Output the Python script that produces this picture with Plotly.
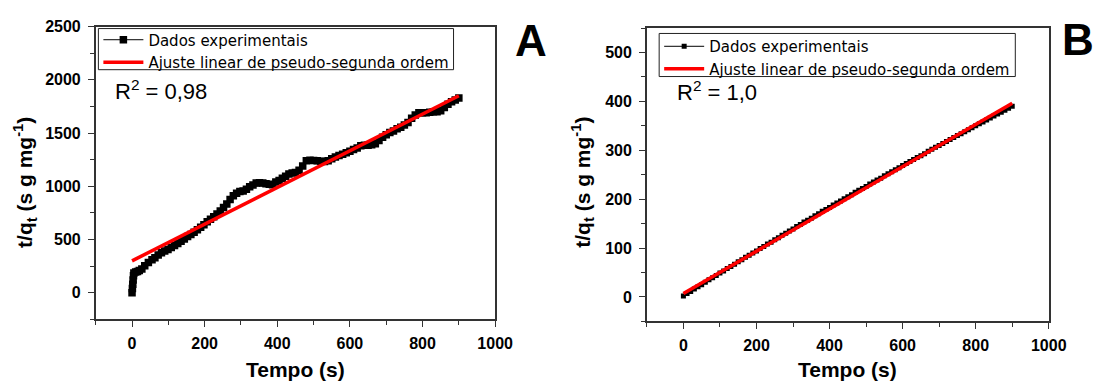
import plotly.graph_objects as go

W, H = 1113, 385

# ---------------- data ----------------
# Panel A: experimental t/qt vs time
tA = [0, 1, 2, 3, 4, 5, 10, 15, 20, 27, 35, 45, 55, 63, 72, 81, 90, 99, 108, 117,
      126, 135, 144, 153, 162, 171, 180, 189, 198, 207, 216, 225, 234, 243, 252, 261,
      270, 279, 288, 297, 306, 315, 324, 333, 342, 351, 360, 369, 378, 387, 396, 405,
      414, 423, 432, 441, 450, 460, 470, 480, 490, 500, 510, 520, 530, 540, 550, 560,
      570, 580, 590, 600, 610, 620, 630, 640, 650, 660, 670, 680, 690, 700, 710, 720,
      730, 740, 750, 760, 770, 780, 790, 800, 810, 820, 830, 840, 850, 860, 870, 880,
      890, 900]
vA = [0, 40, 80, 120, 160, 185, 195, 200, 210, 223, 255, 285, 310, 330, 355, 376, 392, 407, 425, 443,
      462, 483, 505, 529, 548, 569, 592, 615, 640, 667, 690, 713, 740, 768, 800, 835,
      875, 911, 935, 951, 955, 972, 995, 1012, 1030, 1034, 1030, 1025, 1020, 1015, 1040, 1055,
      1075, 1094, 1115, 1126, 1130, 1150, 1190, 1240, 1245, 1243, 1240, 1235, 1232, 1240, 1260, 1275,
      1290, 1300, 1315, 1330, 1345, 1360, 1380, 1385, 1385, 1390, 1400, 1430, 1460, 1485, 1505, 1520,
      1540, 1555, 1575, 1600, 1640, 1670, 1690, 1691, 1692, 1695, 1700, 1700, 1710, 1740, 1770, 1795,
      1810, 1830]
fitA_t = [0, 900]
fitA_v = [300, 1850]

# Panel B: experimental t/qt vs time
tB = [0, 10, 20, 30, 40, 50, 60, 70, 80, 90, 100, 110, 120, 130, 140, 150, 160, 170, 180, 190,
      200, 210, 220, 230, 240, 250, 260, 270, 280, 290, 300, 310, 320, 330, 340, 350, 360, 370,
      380, 390, 400, 410, 420, 430, 440, 450, 460, 470, 480, 490, 500, 510, 520, 530, 540, 550,
      560, 570, 580, 590, 600, 610, 620, 630, 640, 650, 660, 670, 680, 690, 700, 710, 720, 730,
      740, 750, 760, 770, 780, 790, 800, 810, 820, 830, 840, 850, 860, 870, 880, 890, 900]
vB = [2, 7, 11, 16, 21, 25, 30, 35, 39, 44, 49, 53, 58, 62, 67, 72, 76, 81, 85, 90,
      94, 99, 103, 108, 112, 117, 121, 126, 130, 135, 139, 144, 148, 153, 157, 161, 166, 170,
      175, 179, 183, 188, 192, 196, 201, 205, 209, 214, 218, 222, 226, 231, 235, 239, 243, 248,
      252, 256, 260, 264, 269, 273, 277, 281, 285, 289, 293, 298, 302, 306, 310, 314, 318, 322,
      326, 330, 334, 338, 342, 346, 350, 354, 358, 362, 366, 370, 374, 378, 382, 386, 390]
fitB_t = [0, 900]
fitB_v = [7, 396]

name_exp = "Dados experimentais"
name_fit = "Ajuste linear de pseudo-segunda ordem"

# ---------------- figure ----------------
def px(x):
    return x / W

def py(y):
    return 1 - y / H

fig = go.Figure()

fig.add_trace(go.Scatter(x=tA, y=vA, mode="lines+markers", name=name_exp,
                         line=dict(color="black", width=1),
                         marker=dict(symbol="square", size=7.5, color="black"),
                         xaxis="x", yaxis="y", legend="legend"))
fig.add_trace(go.Scatter(x=fitA_t, y=fitA_v, mode="lines", name=name_fit,
                         line=dict(color="#ff0000", width=3.5),
                         xaxis="x", yaxis="y", legend="legend"))
fig.add_trace(go.Scatter(x=tB, y=vB, mode="lines+markers", name=name_exp,
                         line=dict(color="black", width=1),
                         marker=dict(symbol="square", size=5, color="black"),
                         xaxis="x2", yaxis="y2", legend="legend2"))
fig.add_trace(go.Scatter(x=fitB_t, y=fitB_v, mode="lines", name=name_fit,
                         line=dict(color="#ff0000", width=3.5),
                         xaxis="x2", yaxis="y2", legend="legend2"))

tickfont = dict(family="Liberation Sans, Arial, sans-serif", size=16, color="black", weight="bold")
axcol = "#333333"

def xaxis_cfg(domain, anchor):
    return dict(domain=domain, anchor=anchor, range=[-100, 1000], tick0=0, dtick=200,
                showgrid=False, zeroline=False, showline=True, mirror=True,
                linecolor=axcol, linewidth=1.5, ticks="outside", ticklen=6, tickwidth=1.3,
                tickcolor=axcol, tickfont=tickfont, ticklabelstandoff=3,
                minor=dict(dtick=100, tick0=0, ticks="outside", ticklen=4, tickwidth=1.2,
                           tickcolor=axcol, showgrid=False))

def yaxis_cfg(domain, anchor, rng, dtick, mdtick):
    return dict(domain=domain, anchor=anchor, range=rng, tick0=0, dtick=dtick,
                showgrid=False, zeroline=False, showline=True, mirror=True,
                linecolor=axcol, linewidth=1.5, ticks="outside", ticklen=6, tickwidth=1.3,
                tickcolor=axcol, tickfont=tickfont, ticklabelstandoff=4,
                minor=dict(dtick=mdtick, tick0=0, ticks="outside", ticklen=4, tickwidth=1.2,
                           tickcolor=axcol, showgrid=False))

legfont = dict(family="DejaVu Sans, Verdana, sans-serif", size=15, color="black")
legend_common = dict(xanchor="left", yanchor="top", bgcolor="rgba(0,0,0,0)",
                     borderwidth=0, font=legfont, itemwidth=40, tracegroupgap=0,
                     itemclick=False)

# legend frames (drawn as shapes so their size matches the original box)
legend_boxes = [
    dict(type="rect", xref="paper", yref="paper", x0=px(100), x1=px(461), y0=py(63), y1=py(21),
         line=dict(color="#222222", width=1), fillcolor="white", layer="above"),
    dict(type="rect", xref="paper", yref="paper", x0=px(670), x1=px(1032), y0=py(70), y1=py(26),
         line=dict(color="#222222", width=1), fillcolor="white", layer="above"),
]

fig.update_layout(
    width=W, height=H,
    margin=dict(l=0, r=0, t=0, b=0),
    paper_bgcolor="white", plot_bgcolor="white",
    showlegend=True,
    xaxis=xaxis_cfg([px(97.3), px(503.3)], "y"),
    yaxis=yaxis_cfg([py(318), py(19)], "x", [-250, 2500], 500, 250),
    xaxis2=xaxis_cfg([px(657.5), px(1066)], "y2"),
    yaxis2=yaxis_cfg([py(320), py(20.5)], "x2", [-50, 550], 100, 50),
    legend=dict(x=px(100), y=py(15.8), **legend_common),
    legend2=dict(x=px(670), y=py(22.5), **legend_common),
    shapes=legend_boxes,
)

title_font = dict(family="Liberation Sans, Arial, sans-serif", size=21, color="black", weight="bold")
r2_font = dict(family="Liberation Sans, Arial, sans-serif", size=22, color="black")
letter_font = dict(family="Liberation Sans, Arial, sans-serif", size=44, color="black", weight="bold")

annotations = [
    dict(text="Tempo (s)", x=px(300), y=py(369), xref="paper", yref="paper",
         showarrow=False, font=title_font, xanchor="center", yanchor="middle"),
    dict(text="Tempo (s)", x=px(861), y=py(369), xref="paper", yref="paper",
         showarrow=False, font=title_font, xanchor="center", yanchor="middle"),
    dict(text="t/q<sub>t</sub> (s g mg<sup>-1</sup>)", x=px(25), y=py(178), xref="paper", yref="paper",
         showarrow=False, font=title_font, textangle=-90, xanchor="center", yanchor="middle"),
    dict(text="t/q<sub>t</sub> (s g mg<sup>-1</sup>)", x=px(592), y=py(178), xref="paper", yref="paper",
         showarrow=False, font=title_font, textangle=-90, xanchor="center", yanchor="middle"),
    dict(text="R<sup>2</sup> = 0,98", x=px(115), y=py(84), xref="paper", yref="paper",
         showarrow=False, font=r2_font, xanchor="left", yanchor="middle"),
    dict(text="R<sup>2</sup> = 1,0", x=px(686), y=py(85), xref="paper", yref="paper",
         showarrow=False, font=r2_font, xanchor="left", yanchor="middle"),
    dict(text="A", x=px(540), y=py(33), xref="paper", yref="paper",
         showarrow=False, font=letter_font, xanchor="center", yanchor="middle"),
    dict(text="B", x=px(1096), y=py(32), xref="paper", yref="paper",
         showarrow=False, font=letter_font, xanchor="center", yanchor="middle"),
]
fig.update_layout(annotations=annotations)

fig.write_html("out.html", config={"displayModeBar": False},
               post_script="document.body.style.margin='0';document.body.style.overflow='hidden';")
